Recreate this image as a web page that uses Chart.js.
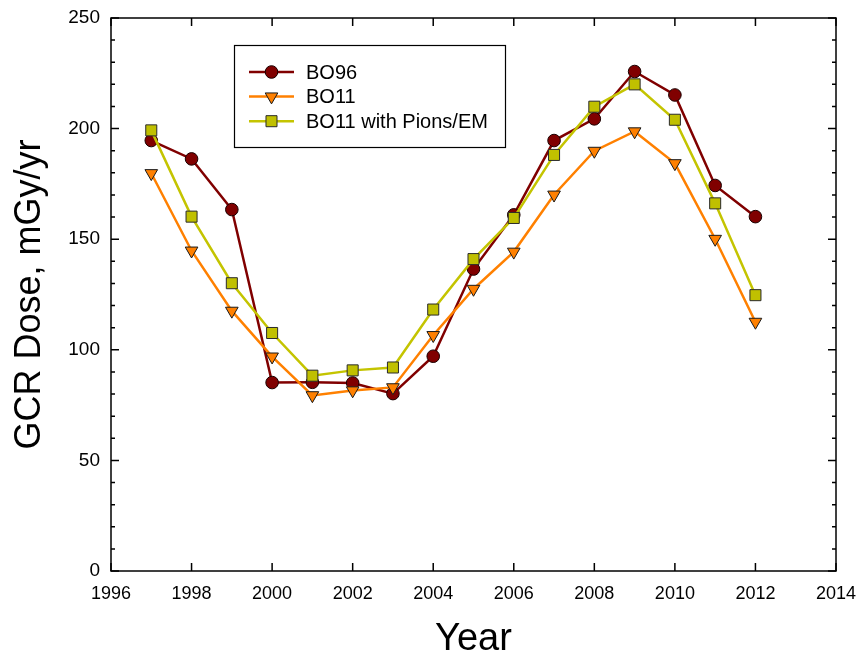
<!DOCTYPE html>
<html>
<head>
<meta charset="utf-8">
<title>GCR Dose</title>
<script src="https://cdn.jsdelivr.net/npm/chart.js@4.4.1/dist/chart.umd.min.js"></script>
<style>
  body { margin: 0; background: #fff; }
  canvas { display: block; }
</style>
</head>
<body>
<canvas id="doseChart" width="860" height="659"></canvas>
<script>
// yearly GCR dose, mGy/yr
const years = [1997, 1998, 1999, 2000, 2001, 2002, 2003, 2004, 2005, 2006, 2007, 2008, 2009, 2010, 2011, 2012]
const bo96 = [194.6, 186.3, 163.4, 85.2, 85.3, 85.0, 80.2, 97.1, 136.5, 161.0, 194.6, 204.4, 225.8, 215.2, 174.3, 160.2]
const bo11 = [179.8, 144.8, 117.6, 96.9, 79.4, 81.6, 83.0, 106.6, 127.5, 144.3, 170.1, 189.9, 198.7, 184.3, 150.1, 112.6]
const bo11Pions = [199.2, 160.2, 130.1, 107.6, 88.3, 90.7, 92.0, 118.2, 141.0, 159.6, 188.1, 209.9, 220.0, 204.0, 166.2, 124.7]

const seriesNames = ['BO96', 'BO11', 'BO11 with Pions/EM']
const xTitle = 'Year'
const yTitle = 'GCR Dose, mGy/yr'

const FONT = "'Liberation Sans', Arial, Helvetica, sans-serif"

const toPoints = (values) => years.map((yr, i) => ({ x: yr, y: values[i] }))

// box + inward tick marks on all four sides
const frameTicks = {
    id: 'frameTicks',
    afterDraw(chart) {
        const { ctx, chartArea: a, scales: { x, y } } = chart
        ctx.save()
        ctx.strokeStyle = '#000'
        ctx.lineWidth = 1.5
        ctx.strokeRect(a.left, a.top, a.right - a.left, a.bottom - a.top)

        ctx.beginPath()
        for (let v = y.min; v <= y.max; v += 10) {
            const py = y.getPixelForValue(v)
            const len = v % 50 === 0 ? 8 : 4
            ctx.moveTo(a.left, py)
            ctx.lineTo(a.left + len, py)
            ctx.moveTo(a.right, py)
            ctx.lineTo(a.right - len, py)
        }
        for (let v = x.min; v <= x.max; v += 2) {
            const px = x.getPixelForValue(v)
            ctx.moveTo(px, a.bottom)
            ctx.lineTo(px, a.bottom - 8)
            ctx.moveTo(px, a.top)
            ctx.lineTo(px, a.top + 8)
        }
        ctx.stroke()
        ctx.restore()
    }
}

// boxed legend inside the plot, upper left
const legendBox = {
    id: 'legendBox',
    afterDraw(chart) {
        const ctx = chart.ctx
        const box = { left: 234, top: 45, width: 271, height: 102 }
        ctx.save()
        ctx.fillStyle = '#fff'
        ctx.fillRect(box.left, box.top, box.width, box.height)
        ctx.strokeStyle = '#000'
        ctx.lineWidth = 1.2
        ctx.strokeRect(box.left + 0.5, box.top + 0.5, box.width, box.height)

        ctx.font = '20px ' + FONT
        ctx.textBaseline = 'middle'
        chart.data.datasets.forEach((ds, i) => {
            const ly = 72 + i * 24.6
            ctx.strokeStyle = ds.borderColor
            ctx.lineWidth = ds.borderWidth
            ctx.beginPath()
            ctx.moveTo(249, ly)
            ctx.lineTo(294, ly)
            ctx.stroke()

            ctx.fillStyle = ds.pointBackgroundColor
            ctx.strokeStyle = ds.pointBorderColor
            ctx.lineWidth = ds.pointBorderWidth
            Chart.helpers.drawPoint(ctx, {
                pointStyle: ds.pointStyle,
                radius: ds.pointRadius,
                rotation: ds.pointRotation || 0,
                borderWidth: ds.pointBorderWidth
            }, 271.5, ly)

            ctx.fillStyle = '#000'
            ctx.fillText(ds.label, 306, ly + 1)
        })
        ctx.restore()
    }
}

const ctx = document.getElementById('doseChart').getContext('2d')
new Chart(ctx, {
    type: 'line',
    data: {
        datasets: [
            {
                label: seriesNames[0],
                data: toPoints(bo96),
                borderColor: '#800000',
                borderWidth: 2.5,
                pointStyle: 'circle',
                pointRadius: 6.3,
                pointBackgroundColor: '#800000',
                pointBorderColor: '#1a0000',
                pointBorderWidth: 1,
                order: 3
            },
            {
                label: seriesNames[1],
                data: toPoints(bo11),
                borderColor: '#FF8000',
                borderWidth: 2.5,
                pointStyle: 'triangle',
                pointRotation: 180,
                pointRadius: 7.3,
                pointBackgroundColor: '#FF8000',
                pointBorderColor: '#1a1a1a',
                pointBorderWidth: 1,
                order: 2
            },
            {
                label: seriesNames[2],
                data: toPoints(bo11Pions),
                borderColor: '#C4C400',
                borderWidth: 2.5,
                pointStyle: 'rect',
                pointRadius: 7.8,
                pointBackgroundColor: '#C0C000',
                pointBorderColor: '#2a2a2a',
                pointBorderWidth: 1,
                order: 1
            }
        ]
    },
    options: {
        responsive: false,
        animation: false,
        events: [],
        layout: {
            padding: { top: 18, right: 24, left: 0, bottom: 0 }
        },
        elements: {
            line: { tension: 0 }
        },
        scales: {
            x: {
                type: 'linear',
                min: 1996,
                max: 2014,
                grid: { display: false, drawTicks: false },
                border: { display: false },
                ticks: {
                    stepSize: 2,
                    maxRotation: 0,
                    autoSkip: false,
                    padding: 12,
                    color: '#000',
                    font: { family: FONT, size: 18 },
                    callback: (v) => String(v)
                },
                title: {
                    display: true,
                    text: xTitle,
                    color: '#000',
                    padding: 0,
                    font: { family: FONT, size: 38, lineHeight: 1 }
                },
                afterFit(scale) {
                    scale.height = 88
                    scale.paddingLeft = 0
                    scale.paddingRight = 0
                }
            },
            y: {
                min: 0,
                max: 250,
                grid: { display: false, drawTicks: false },
                border: { display: false },
                ticks: {
                    stepSize: 50,
                    padding: 11,
                    color: '#000',
                    font: { family: FONT, size: 19 }
                },
                title: {
                    display: true,
                    text: yTitle,
                    color: '#000',
                    padding: { top: 12, bottom: 0 },
                    font: { family: FONT, size: 36, lineHeight: 1 }
                },
                afterFit(scale) {
                    scale.width = 111
                    scale.paddingTop = 0
                    scale.paddingBottom = 0
                }
            }
        },
        plugins: {
            legend: { display: false },
            tooltip: { enabled: false }
        }
    },
    plugins: [frameTicks, legendBox]
})
</script>
</body>
</html>
